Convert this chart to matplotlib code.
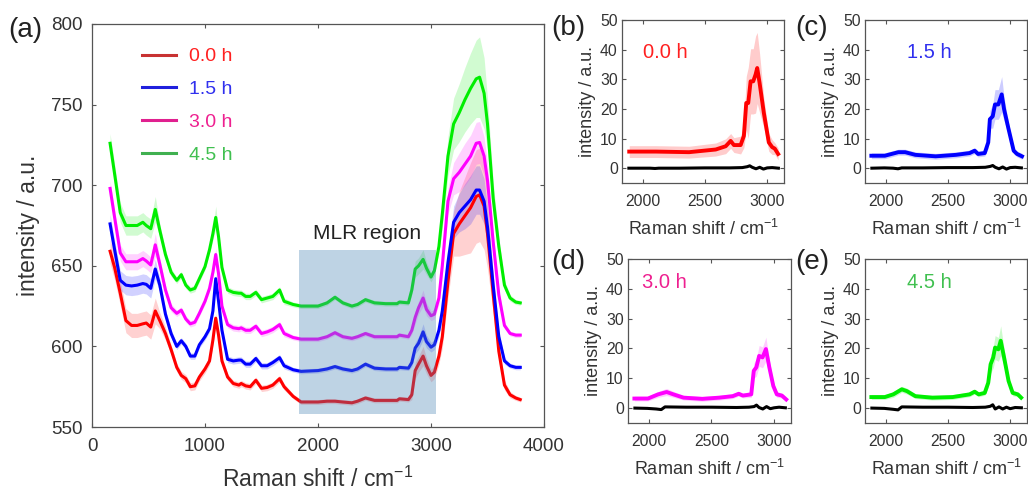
import numpy as np
import matplotlib
matplotlib.use("Agg")
import matplotlib.pyplot as plt
from matplotlib.lines import Line2D
from matplotlib.patches import Rectangle

plt.rcParams['font.family'] = ['Liberation Sans', 'DejaVu Sans']
plt.rcParams['mathtext.default'] = 'regular'

# ---- panel (a): mean spectra ----
x_main = [160, 200, 250, 300, 350, 400, 450, 480, 520, 560,
          600, 650, 700, 750, 790, 830, 870, 910, 950, 1000,
          1040, 1070, 1095, 1120, 1150, 1200, 1250, 1300, 1320, 1360,
          1400, 1450, 1500, 1550, 1600, 1660, 1700, 1780, 1850, 2000,
          2080, 2150, 2220, 2300, 2350, 2420, 2500, 2600, 2700, 2720,
          2800, 2830, 2860, 2890, 2930, 2960, 3000, 3030, 3070, 3100,
          3150, 3200, 3250, 3300, 3350, 3400, 3430, 3470, 3500, 3550,
          3600, 3650, 3700, 3750, 3790]

red_0h = [659, 649, 633, 616, 613, 613, 614, 614.5, 612, 622,
          616, 608, 598, 587, 582, 580, 575, 575.5, 581, 586,
          591, 604, 617.5, 607, 591, 581, 577, 576, 577, 575.5,
          575, 579, 574, 574.5, 576, 580, 575, 569, 565.5, 565.5,
          566, 566, 565.5, 565, 566, 568, 566.5, 566.5, 566.5, 567.5,
          567, 570, 585, 589, 594, 588, 582, 584, 594, 606,
          640, 670, 676, 681, 686, 693, 694, 687, 670, 633,
          597, 576, 570, 568, 567]
blue_15h = [676, 660, 641, 638, 637.5, 638, 639, 638.5, 636, 648,
            638, 620, 608, 600, 603.5, 600, 594, 594, 601, 606,
            611, 622, 642, 628, 610, 592, 591, 591.5, 591.5, 589,
            589, 592.5, 588, 588, 590, 593, 588, 585.5, 584.5, 585,
            586, 587.5, 586, 585, 586, 589, 586.5, 586, 586, 587,
            586.5, 590, 599, 602, 609, 603, 599.5, 601, 610, 622,
            652, 677, 683, 687, 691, 697, 697, 690, 674, 638,
            606, 591, 588, 587, 587]
mag_30h = [698, 680, 658, 652.5, 652.5, 652.5, 654.5, 653, 650.5, 663,
           651, 635, 624, 620.5, 622.5, 617, 614, 615, 620.5, 628,
           636, 646, 657, 645, 625, 613.5, 611.5, 611, 611.5, 610,
           610, 612.5, 608, 609, 610.5, 613.5, 608, 605.5, 604.5, 604.5,
           606, 608.5, 606, 605, 606, 608, 606, 606, 606, 607,
           606, 610, 618, 624, 630, 623, 619, 620, 630, 650,
           690, 704, 708, 713, 718, 726, 726.5, 718, 703, 665,
           632, 613, 608, 607, 607]
green_45h = [726, 707, 683, 675, 675, 675, 677, 675, 673, 685,
             672, 657, 646, 641, 644.5, 638, 635, 636, 642, 649.5,
             660, 670, 680, 668, 649, 635, 633.5, 633, 633, 631,
             631, 633.5, 629, 630, 631, 635, 628, 626, 625, 625,
             627, 630.5, 627, 625, 626, 629, 627, 626.5, 626.5, 627.5,
             627, 635, 648, 650, 654, 648.5, 643, 647, 662, 682,
             718, 738, 745, 753, 760, 766, 767, 757, 738, 692,
             662, 638, 630, 627.5, 627]

# half widths of the shaded bands
red_sd = [7.5, 7.5, 7.5, 7.5, 7.5, 7.5, 7.5, 7.5, 7.5, 8,
          5, 4, 3, 2.5, 2.5, 2.5, 2.5, 2.5, 2.5, 2.5,
          2.5, 3, 3, 3, 2.5, 2, 2, 2, 2, 2,
          2, 2, 2, 2, 2, 2, 2, 1.5, 1.5, 1.5,
          1.5, 1.5, 1.5, 1.5, 1.5, 1.5, 1.5, 1.5, 1.5, 1.5,
          1.5, 3, 5, 5, 6, 5, 4, 4, 5, 7,
          10, 14, 20, 24, 28, 29, 29, 27, 22, 12,
          6, 3, 2, 1.5, 1.5]
blue_sd = [6, 6, 6, 6, 6, 6, 6, 6, 6, 6,
           4, 3, 2.5, 2, 2, 2, 2, 2, 2, 2,
           2, 2.5, 3, 2.5, 2, 2, 2, 2, 2, 2,
           2, 2, 2, 2, 2, 2, 2, 1.5, 1.5, 1.5,
           1.5, 1.5, 1.5, 1.5, 1.5, 1.5, 1.5, 1.5, 1.5, 1.5,
           1.5, 2.5, 3.5, 4, 5, 4, 3, 3, 4, 6,
           8, 10, 12, 14, 15, 15, 15, 14, 12, 8,
           4, 2, 1.5, 1.5, 1.5]
mag_sd = [5, 5, 5, 5, 5, 5, 5, 5, 5, 7,
          4, 3, 2.5, 2, 2, 2, 2, 2, 2, 2,
          2, 3, 4, 3, 2, 2, 2, 2, 2, 2,
          2, 2, 2, 2, 2, 2, 2, 1.5, 1.5, 1.5,
          1.5, 1.5, 1.5, 1.5, 1.5, 1.5, 1.5, 1.5, 1.5, 1.5,
          1.5, 2.5, 4, 4, 5, 4, 3, 3, 4, 6,
          8, 10, 12, 13, 13, 13, 13, 12, 10, 7,
          4, 2, 1.5, 1.5, 1.5]
green_sd = [6, 6, 6, 6, 6, 6, 6, 6, 6, 8,
            4, 3, 2.5, 2, 2, 2, 2, 2, 2, 2,
            2, 4, 7, 4, 2, 2, 2, 2, 2, 2,
            2, 2, 2, 2, 2, 2, 2, 1.5, 1.5, 1.5,
            1.5, 1.5, 1.5, 1.5, 1.5, 1.5, 1.5, 1.5, 1.5, 1.5,
            1.5, 3, 5, 5, 6, 4, 3, 3, 4, 8,
            12, 16, 18, 20, 22, 24, 25, 22, 16, 10,
            6, 3, 2, 1.5, 1.5]

times = ['0.0 h', '1.5 h', '3.0 h', '4.5 h']
line_colors = ['#ff0000', '#0000ff', '#ff00ff', '#00ee00']
legend_line_colors = ['#c83232', '#2020dd', '#e0208f', '#40b050']
legend_text_colors = ['#ff2020', '#3030ee', '#ee2090', '#40c050']

# ---- panels (b)-(e): MLR coefficient spectra ----
b_x = [1893, 2107, 2373, 2587, 2667, 2707, 2733, 2787, 2813, 2832, 2848,
       2867, 2888, 2907, 2920, 2939, 2973, 3013, 3040, 3061, 3088]
b_y = [5.6, 5.6, 5.4, 6.3, 7.4, 9.2, 7.8, 7.8, 10.9, 22, 22,
       29.3, 29.3, 31.6, 33.8, 28.8, 18.7, 8.7, 7.1, 6.6, 4.8]
b_sd = [2, 2, 2, 2.2, 2.5, 2.5, 2.5, 3, 4, 9, 12,
        11, 11, 13, 12, 10, 5, 3, 2.5, 2, 2]

c_x = [1886, 1994, 2103, 2157, 2239, 2402, 2565, 2674, 2715, 2742, 2796,
       2824, 2837, 2860, 2878, 2905, 2932, 2951, 2987, 3028, 3055, 3095]
c_y = [4.2, 4.2, 5.4, 5.4, 4.5, 4.0, 4.5, 5.1, 5.9, 4.8, 5.1,
       8.7, 16.5, 17.5, 21.5, 21.5, 24.9, 19.9, 13.2, 5.9, 4.8, 4.0]
c_sd = [1, 1, 1, 1, 1, 1, 1, 1, 1, 1, 1,
        2, 3, 4, 5, 5, 6, 4, 2, 1, 1, 1]

d_x = [1886, 1994, 2075, 2143, 2197, 2278, 2427, 2562, 2670, 2718, 2751,
       2818, 2838, 2859, 2881, 2908, 2935, 2962, 2994, 3022, 3062, 3097]
d_y = [3.2, 3.2, 4.6, 5.4, 4.6, 3.5, 3.1, 3.5, 4.0, 4.8, 4.2,
       4.6, 12.5, 13.7, 17.5, 17.0, 19.8, 13.7, 7.4, 4.6, 4.2, 2.9]
d_sd = [0.8, 0.8, 1, 1.2, 1, 0.8, 0.8, 0.8, 0.8, 0.8, 0.8,
        1, 2.5, 3, 3.5, 3.5, 4, 2.5, 1.5, 1, 0.8, 0.8]

e_x = [1886, 1994, 2062, 2130, 2171, 2239, 2375, 2538, 2674, 2715, 2747, 2796,
       2824, 2843, 2864, 2879, 2905, 2924, 2951, 2987, 3020, 3061, 3088]
e_y = [3.7, 3.7, 4.6, 6.3, 5.7, 4.0, 3.5, 3.7, 4.6, 5.5, 4.6, 5.1,
       8.5, 14.7, 17.0, 20.3, 19.7, 22.6, 17.0, 9.1, 5.1, 4.6, 3.5]
e_sd = [0.8, 0.8, 1, 1, 1, 0.8, 0.8, 0.8, 0.8, 0.8, 0.8, 0.8,
        1.5, 3, 3.5, 4, 4, 5, 3, 1.5, 1, 0.8, 0.8]

# black reference lines near zero
k_x = [1890, 1990, 2060, 2100, 2130, 2300, 2500, 2700, 2800, 2840,
       2860, 2880, 2910, 2940, 2970, 3000, 3040, 3090]
b_k = [0.0, 0.0, 0.0, -0.1, 0.0, 0.0, 0.1, 0.1, 0.2, 0.5,
       0.8, 0.3, -0.2, 0.3, -0.3, 0.1, 0.2, 0.0]
c_k = [0.0, 0.1, 0.0, -0.2, 0.1, 0.1, 0.2, 0.2, 0.3, 0.6,
       0.9, 0.3, -0.2, 0.4, -0.3, 0.2, 0.3, 0.1]
d_k = [0.0, -0.1, -0.3, -0.5, 0.4, 0.3, 0.3, 0.2, 0.3, 0.5,
       1.0, 0.2, -0.3, 0.5, -0.2, 0.1, 0.3, 0.1]
e_k = [0.0, -0.1, -0.4, -0.6, 0.4, 0.3, 0.3, 0.2, 0.3, 0.6,
       1.1, -0.3, 0.4, -0.3, 0.3, -0.2, 0.2, 0.1]

mlr_lo, mlr_hi = 1835, 3040

TXT = '#333333'
SPINE = '#555555'


def style(ax, tick_size, xpad, ypad):
    for s in ax.spines.values():
        s.set_color(SPINE)
        s.set_linewidth(0.9)
    ax.tick_params(direction='in', top=True, right=True, length=3,
                   width=0.8, color=SPINE, labelsize=tick_size,
                   labelcolor=TXT)
    ax.tick_params(axis='x', pad=xpad)
    ax.tick_params(axis='y', pad=ypad)


W, H = 1028, 493
fig = plt.figure(figsize=(W / 100, H / 100), dpi=100)


def box(l, t, r, b):
    return [l / W, 1 - b / H, (r - l) / W, (b - t) / H]


# ---- (a) ----
ax = fig.add_axes(box(92, 24, 544, 427))
main_y = [red_0h, blue_15h, mag_30h, green_45h]
main_sd = [red_sd, blue_sd, mag_sd, green_sd]
xm = np.array(x_main)
for y, sd, c in zip(main_y, main_sd, line_colors):
    y = np.array(y)
    sd = np.array(sd)
    ax.fill_between(xm, y - sd, y + sd, color=c, alpha=0.18, lw=0)
for y, c in zip(main_y, line_colors):
    ax.plot(xm, y, color=c, lw=2.2, solid_joinstyle='round')
ax.add_patch(Rectangle((mlr_lo, 558), mlr_hi - mlr_lo, 102,
                       facecolor='#4682b4', alpha=0.35, lw=0, zorder=5))
ax.text((mlr_lo + mlr_hi) / 2, 670, 'MLR region', ha='center',
        va='center', fontsize=15, color='#222222')
ax.set_xlim(0, 4000)
ax.set_ylim(550, 800)
ax.set_xticks([0, 1000, 2000, 3000, 4000])
ax.set_yticks([550, 600, 650, 700, 750, 800])
style(ax, 13.5, 8, 7)
ax.set_xlabel('Raman shift / cm$^{-1}$', fontsize=16.5, color=TXT,
              labelpad=8)
ax.set_ylabel('intensity / a.u.', fontsize=16.5, color=TXT, labelpad=8)
handles = [Line2D([], [], color=c, lw=2.2) for c in legend_line_colors]
ax.legend(handles, times, loc='upper left', bbox_to_anchor=(0.09, 0.965),
          frameon=False, fontsize=14, labelcolor=legend_text_colors,
          handlelength=1.75, handletextpad=0.65, labelspacing=0.78,
          borderpad=0)

# ---- (b)-(e) ----
subs = [
    (box(622, 20, 784, 183), b_x, b_y, b_sd, b_k, 0, 2000, 39),
    (box(865, 20, 1027, 183), c_x, c_y, c_sd, c_k, 1, 2171, 39),
    (box(628, 259, 791, 423), d_x, d_y, d_sd, d_k, 2, 1943, 42),
    (box(865, 259, 1027, 423), e_x, e_y, e_sd, e_k, 3, 2171, 42),
]
for rect, sx, sy, ssd, sk, i, tx, ty in subs:
    a = fig.add_axes(rect)
    sx = np.array(sx)
    sy = np.array(sy)
    ssd = np.array(ssd)
    a.fill_between(sx, sy - ssd, sy + ssd, color=line_colors[i],
                   alpha=0.2, lw=0)
    a.plot(sx, sy, color=line_colors[i], lw=2.8, solid_joinstyle='round')
    a.plot(k_x, sk, color='black', lw=2.2)
    a.text(tx, ty, times[i], color=legend_text_colors[i], fontsize=14.5,
           va='center', ha='left')
    a.set_xlim(1835, 3135)
    a.set_ylim(-5, 50)
    a.set_xticks([2000, 2500, 3000])
    a.set_yticks([0, 10, 20, 30, 40, 50])
    style(a, 11.3, 8, 3)
    a.set_xlabel('Raman shift / cm$^{-1}$', fontsize=13, color=TXT,
                 labelpad=7)
    a.set_ylabel('intensity / a.u.', fontsize=13, color=TXT, labelpad=3)

for lab, px, py in [('(a)', 8, 17), ('(b)', 551, 15), ('(c)', 795, 15),
                    ('(d)', 551, 249), ('(e)', 795, 249)]:
    fig.text(px / W, 1 - py / H, lab, fontsize=20, color='#222222',
             va='top', ha='left')

fig.savefig('out.png', dpi=100)
